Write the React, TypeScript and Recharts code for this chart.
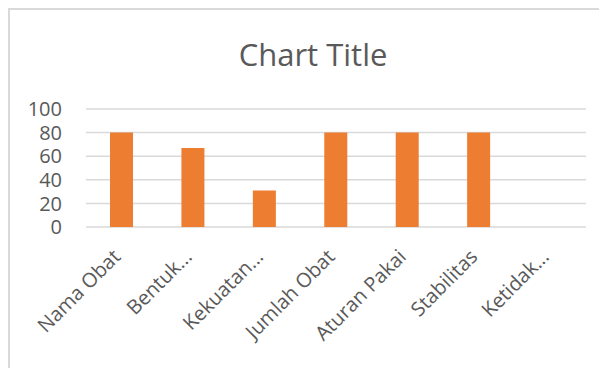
import { BarChart, Bar, XAxis, YAxis, CartesianGrid } from 'recharts'

const categories = ['Nama Obat', 'Bentuk...', 'Kekuatan...', 'Jumlah Obat', 'Aturan Pakai', 'Stabilitas', 'Ketidak...']
const values = [80, 67, 31, 80, 80, 80, 0]
const yTicks = [0, 20, 40, 60, 80, 100]

const data = categories.map((name, i) => ({ name, value: values[i] }))

const FONT = '"Open Sans", "Noto Sans", sans-serif'
const TEXT = '#595959'

// rotated category label, baseline end sits below the tick
function AngledTick({ x, y, payload }: any) {
  return (
    <text
      x={x}
      y={y}
      transform={`rotate(-45, ${x}, ${y})`}
      textAnchor="end"
      fontSize={20}
      fontFamily={FONT}
      fill={TEXT}
    >
      {payload.value}
    </text>
  )
}

export default function App() {
  return (
    <div style={{ position: 'relative', width: 599, height: 360 }}>
      <div
        style={{
          position: 'absolute',
          left: 0,
          top: 0,
          width: 599,
          height: 360,
          boxSizing: 'border-box',
          borderLeft: '2px solid #d9d9d9',
          borderTop: '2px solid #d9d9d9'
        }}
      />
      <div
        style={{
          position: 'absolute',
          left: 155,
          top: 31,
          width: 300,
          textAlign: 'center',
          fontFamily: FONT,
          fontSize: 31,
          lineHeight: '31px',
          color: TEXT
        }}
      >
        Chart Title
      </div>
      <div style={{ position: 'absolute', left: 0, top: 0 }}>
        <BarChart
          width={599}
          height={360}
          data={data}
          margin={{ top: 101, right: 21, left: 0, bottom: 0 }}
        >
          <CartesianGrid vertical={false} stroke="#d9d9d9" strokeWidth={1.5} />
          <XAxis
            dataKey="name"
            axisLine={false}
            tickLine={false}
            interval={0}
            height={141}
            tick={<AngledTick />}
            tickSize={0}
            tickMargin={31}
          />
          <YAxis
            domain={[0, 100]}
            ticks={yTicks}
            interval={0}
            width={78}
            axisLine={false}
            tickLine={false}
            tickSize={0}
            tickMargin={24}
            tick={{ fontSize: 20, fontFamily: FONT, fill: TEXT }}
          />
          <Bar dataKey="value" fill="#ED7D31" barSize={23} isAnimationActive={false} />
        </BarChart>
      </div>
    </div>
  )
}
